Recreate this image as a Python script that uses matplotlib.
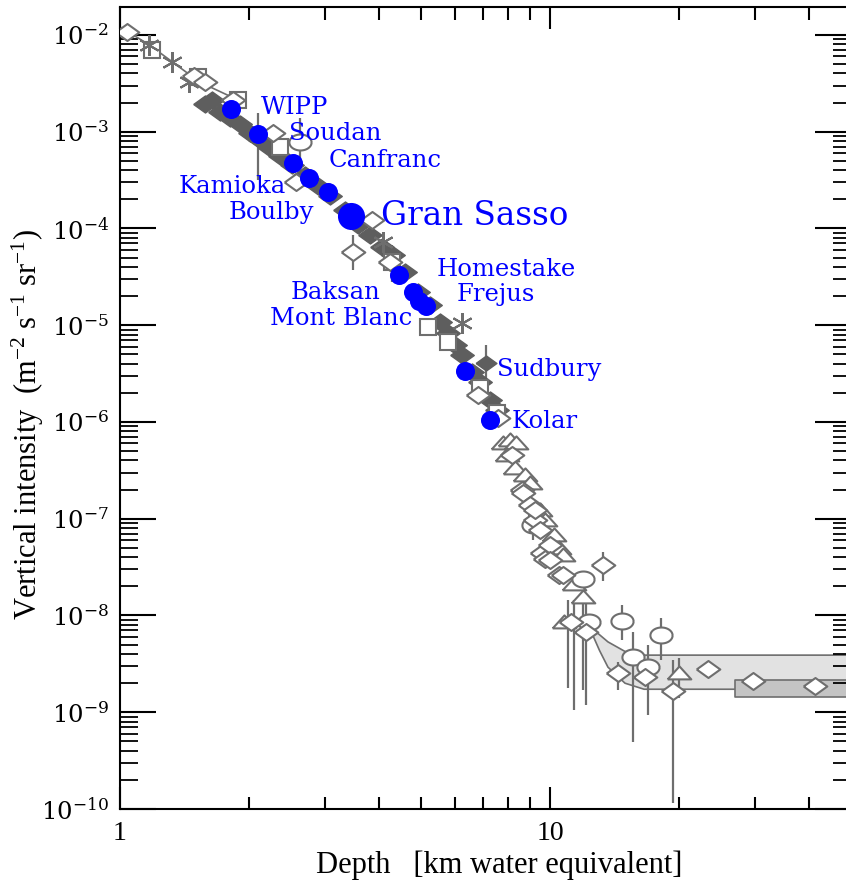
import numpy as np
import matplotlib
matplotlib.use('Agg')
import matplotlib.pyplot as plt
from matplotlib.ticker import FixedLocator, FixedFormatter, NullFormatter, LogFormatterSciNotation

plt.rcParams['mathtext.default'] = 'regular'

# depth [km w.e.], vertical intensity [m^-2 s^-1 sr^-1]
lab_names = ['WIPP', 'Soudan', 'Canfranc', 'Kamioka', 'Boulby', 'Gran Sasso',
             'Baksan', 'Mont Blanc', 'Homestake', 'Frejus', 'Sudbury', 'Kolar']
lab_depth = [1.81, 2.09, 2.52, 2.75, 3.05, 3.44, 4.45, 4.8, 4.96, 5.15, 6.34, 7.25]
lab_flux = [1.72e-3, 9.5e-4, 4.8e-4, 3.33e-4, 2.4e-4, 1.35e-4,
            3.3e-5, 2.2e-5, 1.8e-5, 1.58e-5, 3.4e-6, 1.05e-6]

diam_depth = [1.04, 1.49, 1.58, 1.83, 2.27, 2.57, 3.48, 3.86, 4.25, 6.8, 7.57,
              8.16, 8.61, 8.65, 8.98, 9.23, 9.23, 9.48, 9.58, 10.0, 9.73, 10.0,
              10.5, 10.7, 13.3, 11.2, 12.1, 14.4, 16.6, 19.3, 23.3, 29.7, 41.3]
diam_flux = [1.07e-2, 3.77e-3, 3.27e-3, 2.13e-3, 9.7e-4, 3.03e-4, 5.7e-5, 1.23e-4,
             4.5e-5, 1.91e-6, 1.1e-6, 4.6e-7, 2.0e-7, 1.86e-7, 1.4e-7, 9.8e-8,
             1.24e-7, 7.7e-8, 4.46e-8, 5.4e-8, 3.8e-8, 3.77e-8, 2.64e-8, 2.6e-8,
             3.35e-8, 8.6e-9, 6.8e-9, 2.56e-9, 2.33e-9, 1.67e-9, 2.8e-9, 2.1e-9,
             1.88e-9]

sq_depth = [1.19, 1.52, 1.88, 2.36, 4.29, 5.2, 5.79, 6.87, 7.53]
sq_flux = [7.0e-3, 3.68e-3, 2.13e-3, 6.97e-4, 4.5e-5, 9.6e-6, 6.7e-6, 2.25e-6, 1.24e-6]

ast_depth = [1.17, 1.32, 1.45, 4.09, 6.24]
ast_flux = [7.9e-3, 5.26e-3, 3.27e-3, 7.3e-5, 1.06e-5]

fill_depth = [1.58, 1.64, 1.71, 1.80, 1.90, 2.01, 2.09, 2.12, 2.23, 2.36, 2.51,
              2.69, 2.89, 3.08, 3.33, 3.58, 3.81, 4.07, 4.31, 4.6, 4.93, 5.26,
              5.55, 5.79, 6.01, 6.24, 6.59, 6.88, 7.25, 7.53]
fill_flux = [1.94e-3, 2.13e-3, 1.6e-3, 1.39e-3, 1.2e-3, 9.7e-4, 8.6e-4, 8.2e-4,
             6.8e-4, 5.6e-4, 4.5e-4, 3.6e-4, 2.75e-4, 2.17e-4, 1.56e-4, 1.09e-4,
             8.6e-5, 6.5e-5, 5.3e-5, 3.56e-5, 2.2e-5, 1.63e-5, 1.08e-5, 8.3e-6,
             6.3e-6, 4.9e-6, 3.3e-6, 2.6e-6, 1.7e-6, 1.34e-6]
sudbury_depth = [7.1]
sudbury_flux = [4.1e-6]

tri_depth = [7.78, 8.07, 8.34, 7.94, 8.29, 8.75, 8.98, 9.48, 9.73, 10.2, 10.5,
             10.7, 11.4, 11.9, 10.8, 20.0]
tri_flux = [6.1e-7, 6.5e-7, 6.1e-7, 4.6e-7, 3.36e-7, 2.85e-7, 2.36e-7, 1.24e-7,
            9.8e-8, 6.8e-8, 5.0e-8, 4.2e-8, 2.1e-8, 1.56e-8, 8.6e-9, 2.56e-9]

circ_depth = [2.62, 9.13, 11.9, 12.3, 14.7, 18.1, 15.6, 16.9]
circ_flux = [7.85e-4, 8.7e-8, 2.4e-8, 8.6e-9, 8.8e-9, 6.3e-9, 3.75e-9, 2.96e-9]

# vertical error bars: depth, low, high
err_depth = [2.09, 2.62, 3.48, 4.29, 7.1, 13.3, 11.0, 11.4, 11.9, 12.1, 14.7,
             15.6, 16.9, 18.1, 19.3, 20.0, 14.4, 23.3, 29.7, 41.3, 9.13, 9.8]
err_lo = [3.2e-4, 4.5e-4, 3.7e-5, 2.8e-5, 2.4e-6, 2.29e-8, 1.8e-9, 1.06e-9,
          1.71e-9, 1.2e-9, 5.6e-9, 4.97e-10, 9.4e-10, 3.5e-9, 1.16e-10, 1.42e-9,
          1.71e-9, 2.31e-9, 1.72e-9, 1.55e-9, 6.0e-8, 3.3e-8]
err_hi = [1.56e-3, 1.39e-3, 8.6e-5, 6.8e-5, 6.3e-6, 4.56e-8, 1.46e-8, 1.46e-8,
          1.46e-8, 1.46e-8, 1.29e-8, 6.8e-9, 4.99e-9, 9.5e-9, 3.5e-9, 3.66e-9,
          3.33e-9, 3.39e-9, 2.55e-9, 2.28e-9, 1.1e-7, 6.0e-8]

curve_depth = [1.0, 1.17, 1.53, 1.88]
curve_flux = [1.21e-2, 7.9e-3, 3.27e-3, 2.13e-3]

# neutrino-induced muon bands
nu_depth = [12.25, 13.0, 13.6, 14.9, 16.5, 19.3, 50.0]
nu_upper = [8.0e-9, 6.4e-9, 5.4e-9, 4.3e-9, 3.94e-9, 3.94e-9, 3.94e-9]
nu_lower = [8.0e-9, 4.4e-9, 2.96e-9, 2.02e-9, 1.75e-9, 1.75e-9, 1.75e-9]
nu2_depth = [26.9, 50.0]
nu2_upper = [2.17e-9, 2.17e-9]
nu2_lower = [1.45e-9, 1.45e-9]

W, H = 846, 881
fig = plt.figure(figsize=(W / 100, H / 100), dpi=100)
ax = fig.add_axes([120 / W, 72 / H, 730.6 / W, 802 / H])
ax.set_xscale('log')
ax.set_yscale('log')
ax.set_xlim(1, 50)
ax.set_ylim(1e-10, 10 ** -1.711)

gray = '#6e6e6e'
dgray = '#5e5e5e'

ax.fill_between(nu_depth, nu_lower, nu_upper, facecolor='#e2e2e2',
                edgecolor=gray, lw=1.2, zorder=1)
ax.fill_between(nu2_depth, nu2_lower, nu2_upper, facecolor='#c4c4c4',
                edgecolor=gray, lw=1.2, zorder=1.5)

ax.plot(curve_depth, curve_flux, '-', color=gray, lw=1.2, zorder=2)
ax.vlines(err_depth, err_lo, err_hi, color=gray, lw=1.6, zorder=2)

flat_diamond = [(-1, 0), (0, 0.72), (1, 0), (0, -0.72), (-1, 0)]
t = np.linspace(0, 2 * np.pi, 40)
ellipse = list(zip(np.cos(t), 0.72 * np.sin(t)))
flat_tri = [(-1, -0.5), (0, 0.6), (1, -0.5), (-1, -0.5)]

ax.plot(fill_depth, fill_flux, ls='none', marker=flat_diamond, ms=17, mfc=dgray,
        mec=dgray, mew=1, zorder=3)
ax.plot(sudbury_depth, sudbury_flux, ls='none', marker=flat_diamond, ms=15,
        mfc=dgray, mec=dgray, zorder=3)
ax.plot(sq_depth, sq_flux, ls='none', marker='s', ms=11, mfc='white',
        mec=gray, mew=1.5, zorder=3)
ax.plot(ast_depth, ast_flux, ls='none', marker=(6, 2, 0), ms=15, color=gray,
        mew=1.5, zorder=3)
ax.plot(tri_depth, tri_flux, ls='none', marker=flat_tri, ms=17, mfc='white',
        mec=gray, mew=1.5, zorder=3)
ax.plot(circ_depth, circ_flux, ls='none', marker=ellipse, ms=16, mfc='white',
        mec=gray, mew=1.5, zorder=3)
ax.plot(diam_depth, diam_flux, ls='none', marker=flat_diamond, ms=17,
        mfc='white', mec=gray, mew=1.5, zorder=3.5)

sizes = [19.5 if n == 'Gran Sasso' else 13.7 for n in lab_names]
for d, f, s in zip(lab_depth, lab_flux, sizes):
    ax.plot(d, f, 'o', ms=s, color='#0000ff', mec='none', zorder=5)

# lab labels: (name, x, y, ha)
label_pos = [('WIPP', 2.13, 1.76e-3, 'left'), ('Soudan', 2.47, 9.5e-4, 'left'),
             ('Canfranc', 3.06, 4.99e-4, 'left'), ('Kamioka', 2.43, 2.69e-4, 'right'),
             ('Boulby', 2.83, 1.45e-4, 'right'), ('Homestake', 5.46, 3.73e-5, 'left'),
             ('Frejus', 6.08, 2.06e-5, 'left'), ('Baksan', 4.04, 2.16e-5, 'right'),
             ('Mont Blanc', 4.78, 1.16e-5, 'right'), ('Sudbury', 7.53, 3.46e-6, 'left'),
             ('Kolar', 8.12, 1.0e-6, 'left')]
for name, x, y, ha in label_pos:
    ax.text(x, y, name, color='#0000ff', fontsize=17.5, family='DejaVu Serif',
            ha=ha, va='center', zorder=6)
ax.text(4.04, 1.35e-4, 'Gran Sasso', color='#0000ff', fontsize=23.5,
        family='DejaVu Serif', ha='left', va='center', zorder=6)

ax.spines['right'].set_visible(False)
for s in ['left', 'top', 'bottom']:
    ax.spines[s].set_linewidth(1.5)

y_major = [10.0 ** e for e in range(-10, -1)]
y_minor = [m * 10.0 ** e for e in range(-10, -2) for m in range(2, 10)]
y_minor = [v for v in y_minor if v < 10 ** -1.711]
x_minor = [2, 3, 4, 5, 6, 7, 8, 9, 20, 30, 40]

ax.yaxis.set_major_locator(FixedLocator(y_major))
ax.yaxis.set_major_formatter(LogFormatterSciNotation())
ax.yaxis.set_minor_locator(FixedLocator(y_minor))
ax.yaxis.set_minor_formatter(NullFormatter())
ax.xaxis.set_major_locator(FixedLocator([1, 10]))
ax.xaxis.set_major_formatter(FixedFormatter(['1', '10']))
ax.xaxis.set_minor_locator(FixedLocator(x_minor))
ax.xaxis.set_minor_formatter(NullFormatter())

ax.tick_params(axis='y', which='major', direction='in', length=26, width=1.5,
               left=True, right=True, pad=8)
ax.tick_params(axis='y', which='minor', direction='in', length=13, width=1.3,
               left=True, right=True)
ax.tick_params(axis='x', which='major', direction='in', length=16, width=1.5,
               top=True, bottom=True, pad=9)
ax.tick_params(axis='x', which='minor', direction='in', length=9, width=1.5,
               top=True, bottom=True)
for lbl in ax.get_yticklabels():
    lbl.set_family('DejaVu Serif')
    lbl.set_fontsize(17.5)
for lbl in ax.get_xticklabels():
    lbl.set_family('Liberation Serif')
    lbl.set_fontsize(20)

ax.set_xlabel('Depth   [km water equivalent]', family='Liberation Serif',
              fontsize=22)
ax.set_ylabel('Vertical intensity  (m$^{-2}$ s$^{-1}$ sr$^{-1}$)',
              family='Liberation Serif', fontsize=22)
ax.xaxis.set_label_coords(0.519, -0.052)
ax.xaxis.label.set_va('top')
ax.yaxis.set_label_coords(-0.126, 0.48)
ax.yaxis.label.set_va('center')

fig.savefig('out.png', dpi=100)
